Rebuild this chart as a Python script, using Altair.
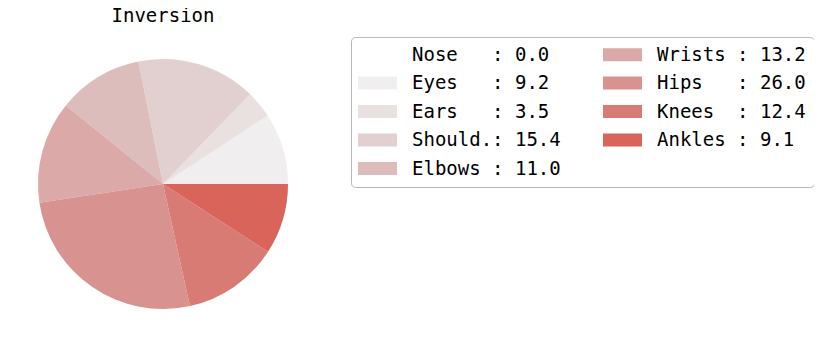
import math
import altair as alt
import pandas as pd

parts = ["Nose", "Eyes", "Ears", "Should.", "Elbows", "Wrists", "Hips", "Knees", "Ankles"]
values = [0.0, 9.2, 3.5, 15.4, 11.0, 13.2, 26.0, 12.4, 9.1]
colors = ["#ffffff", "#f1eeef", "#e9e0e0", "#e2d0d1", "#ddbcbc",
          "#daa9a8", "#d8928f", "#d77b74", "#d9645a"]

NB = "\u00a0"
labels = [f"{p:<7}: {v:.1f}".replace(" ", NB) for p, v in zip(parts, values)]

df = pd.DataFrame({
    "part": parts,
    "value": values,
    "label": labels,
    "order": list(range(len(parts)))[::-1],
})

rect_path = "M-3,-1L3,-1L3,1L-3,1Z"

chart = alt.Chart(df).mark_arc(outerRadius=125).encode(
    theta=alt.Theta("value:Q", stack=True,
                    scale=alt.Scale(range=[math.pi / 2, math.pi / 2 + 2 * math.pi])),
    order=alt.Order("order:Q", sort="ascending"),
    color=alt.Color("label:N", scale=alt.Scale(domain=labels, range=colors),
                    legend=alt.Legend(
                        title=None, orient="none", legendX=313, legendY=-22,
                        columns=2, columnPadding=42, rowPadding=8.5,
                        symbolType=rect_path, symbolSize=169,
                        symbolStrokeWidth=0, symbolOffset=9,
                        labelOffset=25, labelFont="DejaVu Sans Mono",
                        labelFontSize=19, labelColor="black", labelLimit=0,
                        padding=8, strokeColor="#b8b8b8", cornerRadius=4,
                        fillColor="white")),
).properties(
    width=250, height=250,
    title=alt.TitleParams("Inversion", font="DejaVu Sans Mono", fontSize=19,
                          fontWeight="normal", anchor="middle",
                          baseline="alphabetic", offset=5, dy=9, color="black"),
    autosize=alt.AutoSizeParams(type="none"),
    padding={"left": 30, "top": 51, "right": 526, "bottom": 31},
).configure_view(stroke=None)

chart.save("out.html", embed_options={"renderer": "svg", "actions": False})
